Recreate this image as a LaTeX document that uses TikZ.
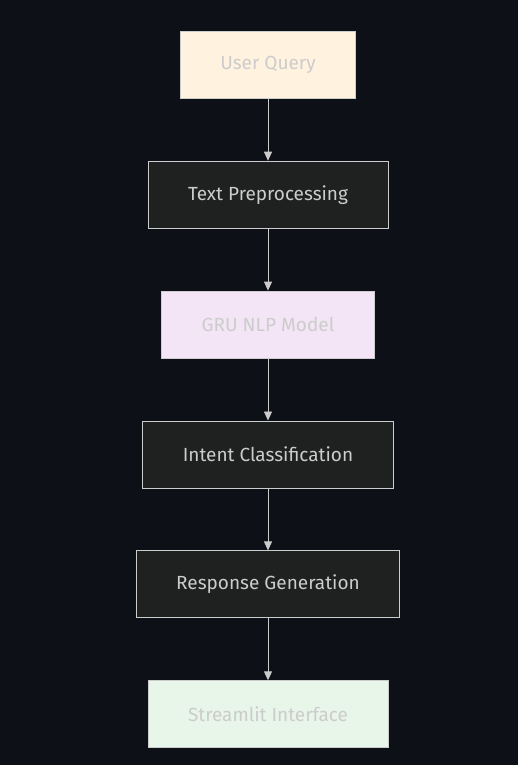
\documentclass[tikz,border=0pt]{standalone}
\usepackage{fontspec}
\setmainfont{Fira Sans}
\usepackage{tikz}
\usetikzlibrary{matrix,arrows.meta}

\definecolor{pagebg}{HTML}{0D1117}
\definecolor{darkfill}{HTML}{1F2020}
\definecolor{edgegray}{HTML}{CCCCCC}
\definecolor{labelgray}{HTML}{CCCCCC}
\definecolor{creamfill}{HTML}{FFF3E0}
\definecolor{lilacfill}{HTML}{F3E5F5}
\definecolor{mintfill}{HTML}{E8F5E9}

\tikzset{
  stage/.style={draw=edgegray, line width=0.9pt, fill=darkfill, text=labelgray,
    minimum height=67pt, inner xsep=40pt, font=\fontsize{19}{22}\selectfont},
  cream/.style={fill=creamfill},
  lilac/.style={fill=lilacfill},
  mint/.style={fill=mintfill},
  flow/.style={draw=edgegray, line width=0.9pt, -{Triangle[width=8pt,length=9pt,fill=edgegray]}}
}

\begin{document}
\begin{tikzpicture}
  \fill[pagebg] (0,0) rectangle (518pt,-765pt);
  \useasboundingbox (0,0) rectangle (518pt,-765pt);
  \matrix (m) [matrix of nodes, row sep=62pt, nodes={stage}, anchor=center] at (268pt,-389.5pt)
  {
    |[cream]| User Query \\
    Text Preprocessing \\
    |[lilac]| GRU NLP Model \\
    Intent Classification \\
    Response Generation \\
    |[mint]| Streamlit Interface \\
  };
  \path[flow]
  (m-1-1) edge (m-2-1)
  (m-2-1) edge (m-3-1)
  (m-3-1) edge (m-4-1)
  (m-4-1) edge (m-5-1)
  (m-5-1) edge (m-6-1)
  ;
\end{tikzpicture}
\end{document}
